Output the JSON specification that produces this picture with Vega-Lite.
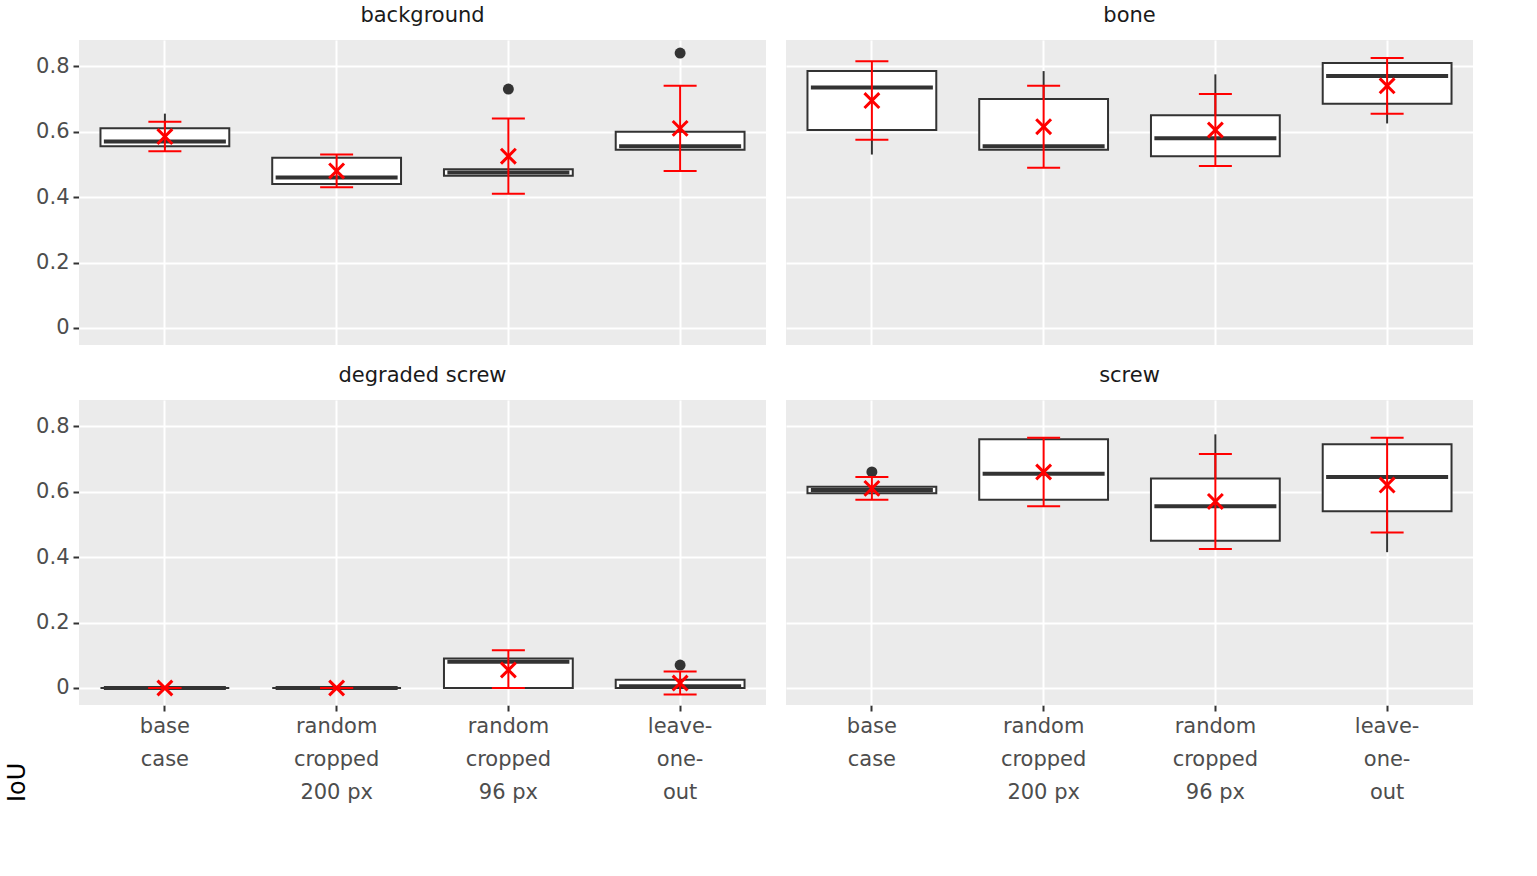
{
  "$schema": "https://vega.github.io/schema/vega-lite/v6.json",
  "title": {"text": "IoU", "orient": "left", "fontSize": 24, "fontWeight": "normal", "color": "black", "font": "DejaVu Sans", "offset": 6},
  "data": {"values": [
    {"panel":"background","method":"base|case","lo":0.55,"q1":0.555,"med":0.57,"q3":0.61,"hi":0.655,"mean":0.585,"sdlo":0.54,"sdhi":0.63,"out":null},
    {"panel":"background","method":"random|cropped|200 px","lo":0.44,"q1":0.44,"med":0.46,"q3":0.52,"hi":0.52,"mean":0.48,"sdlo":0.43,"sdhi":0.53,"out":null},
    {"panel":"background","method":"random|cropped|96 px","lo":0.465,"q1":0.465,"med":0.475,"q3":0.485,"hi":0.485,"mean":0.525,"sdlo":0.41,"sdhi":0.64,"out":0.73},
    {"panel":"background","method":"leave-|one-|out","lo":0.545,"q1":0.545,"med":0.555,"q3":0.6,"hi":0.6,"mean":0.61,"sdlo":0.48,"sdhi":0.74,"out":0.84},
    {"panel":"bone","method":"base|case","lo":0.53,"q1":0.605,"med":0.735,"q3":0.785,"hi":0.785,"mean":0.695,"sdlo":0.575,"sdhi":0.815,"out":null},
    {"panel":"bone","method":"random|cropped|200 px","lo":0.545,"q1":0.545,"med":0.555,"q3":0.7,"hi":0.785,"mean":0.615,"sdlo":0.49,"sdhi":0.74,"out":null},
    {"panel":"bone","method":"random|cropped|96 px","lo":0.525,"q1":0.525,"med":0.58,"q3":0.65,"hi":0.775,"mean":0.605,"sdlo":0.495,"sdhi":0.715,"out":null},
    {"panel":"bone","method":"leave-|one-|out","lo":0.625,"q1":0.685,"med":0.77,"q3":0.81,"hi":0.81,"mean":0.74,"sdlo":0.655,"sdhi":0.825,"out":null},
    {"panel":"degraded screw","method":"base|case","lo":0,"q1":0,"med":0,"q3":0,"hi":0,"mean":0,"sdlo":0,"sdhi":0,"out":null},
    {"panel":"degraded screw","method":"random|cropped|200 px","lo":0,"q1":0,"med":0,"q3":0,"hi":0,"mean":0,"sdlo":0,"sdhi":0,"out":null},
    {"panel":"degraded screw","method":"random|cropped|96 px","lo":0,"q1":0,"med":0.08,"q3":0.09,"hi":0.09,"mean":0.055,"sdlo":0,"sdhi":0.115,"out":null},
    {"panel":"degraded screw","method":"leave-|one-|out","lo":0,"q1":0,"med":0.005,"q3":0.025,"hi":0.025,"mean":0.015,"sdlo":-0.02,"sdhi":0.05,"out":0.07},
    {"panel":"screw","method":"base|case","lo":0.595,"q1":0.595,"med":0.605,"q3":0.615,"hi":0.615,"mean":0.61,"sdlo":0.575,"sdhi":0.645,"out":0.66},
    {"panel":"screw","method":"random|cropped|200 px","lo":0.575,"q1":0.575,"med":0.655,"q3":0.76,"hi":0.76,"mean":0.66,"sdlo":0.555,"sdhi":0.765,"out":null},
    {"panel":"screw","method":"random|cropped|96 px","lo":0.45,"q1":0.45,"med":0.555,"q3":0.64,"hi":0.775,"mean":0.57,"sdlo":0.425,"sdhi":0.715,"out":null},
    {"panel":"screw","method":"leave-|one-|out","lo":0.415,"q1":0.54,"med":0.645,"q3":0.745,"hi":0.745,"mean":0.62,"sdlo":0.475,"sdhi":0.765,"out":null}
  ]},
  "facet": {"field": "panel", "type": "nominal", "title": null},
  "columns": 2,
  "spacing": {"column": 20, "row": 20},
  "spec": {
    "width": 687,
    "height": 305,
    "encoding": {
      "x": {"field": "method", "type": "nominal", "title": null,
        "sort": ["base|case","random|cropped|200 px","random|cropped|96 px","leave-|one-|out"],
        "axis": {"labelAngle": 0, "labelExpr": "split(datum.label, '|')", "grid": true}}
    },
    "layer": [
      {"mark": {"type": "rule", "color": "#333333", "strokeWidth": 2},
       "encoding": {"y": {"field": "lo", "type": "quantitative", "title": null,
          "scale": {"domain": [-0.052, 0.88], "nice": false, "zero": false},
          "axis": {"values": [0,0.2,0.4,0.6,0.8], "labelExpr": "datum.value == 0 ? '0' : format(datum.value, '.1f')"}},
         "y2": {"field": "hi"}}},
      {"mark": {"type": "bar", "fill": "white", "stroke": "#333333", "strokeWidth": 2, "width": {"band": 0.75}},
       "encoding": {"y": {"field": "q1", "type": "quantitative"}, "y2": {"field": "q3"}}},
      {"mark": {"type": "tick", "color": "#333333", "thickness": 4, "size": 122, "opacity": 1},
       "encoding": {"y": {"field": "med", "type": "quantitative"}}},
      {"transform": [{"filter": "datum.out != null"}],
       "mark": {"type": "circle", "color": "#333333", "size": 120, "opacity": 1},
       "encoding": {"y": {"field": "out", "type": "quantitative"}}},
      {"mark": {"type": "rule", "color": "red", "strokeWidth": 2},
       "encoding": {"y": {"field": "sdlo", "type": "quantitative"}, "y2": {"field": "sdhi"}}},
      {"mark": {"type": "tick", "color": "red", "thickness": 2, "size": 33, "opacity": 1},
       "encoding": {"y": {"field": "sdlo", "type": "quantitative"}}},
      {"mark": {"type": "tick", "color": "red", "thickness": 2, "size": 33, "opacity": 1},
       "encoding": {"y": {"field": "sdhi", "type": "quantitative"}}},
      {"mark": {"type": "point", "shape": "M-1,-1L1,1M1,-1L-1,1", "stroke": "red", "filled": false, "strokeWidth": 3, "size": 220, "opacity": 1},
       "encoding": {"y": {"field": "mean", "type": "quantitative"}}}
    ]
  },
  "config": {
    "view": {"fill": "#EBEBEB", "stroke": null},
    "background": "white",
    "font": "DejaVu Sans",
    "header": {"labelFontSize": 21, "labelColor": "#1A1A1A", "labelFont": "DejaVu Sans", "labelPadding": 14},
    "axis": {"labelFontSize": 21, "labelColor": "#4D4D4D", "labelFont": "DejaVu Sans", "labelLineHeight": 33, "domain": false, "tickColor": "#333333", "tickSize": 6, "tickWidth": 2, "gridColor": "white", "gridWidth": 2, "labelPadding": 4}
  }
}
